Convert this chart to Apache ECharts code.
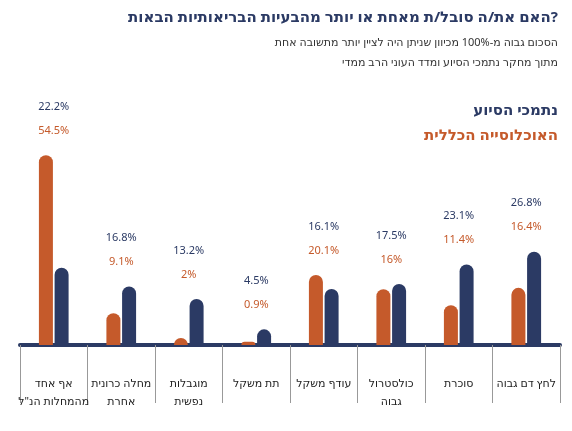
<html>
<head><meta charset="utf-8"></head>
<body style="margin:0">
<div id="container" style="width:572px;height:431px;"></div>
<script src="https://cdn.jsdelivr.net/npm/echarts@6/dist/echarts.min.js"></script>
<script>
var categories = ['לחץ דם גבוה', 'סוכרת', 'כולסטרול\nגבוה', 'עודף משקל', 'תת משקל', 'מוגבלות\nנפשית', 'מחלה כרונית\nאחרת', 'אף אחד\nמהמחלות הנ"ל'];
var general = [16.4, 11.4, 16, 20.1, 0.9, 2, 9.1, 54.5];
var supported = [26.8, 23.1, 17.5, 16.1, 4.5, 13.2, 16.8, 22.2];
var orange = '#c55a2b', navy = '#2b3a64';
var font = 'Noto Sans, DejaVu Sans, sans-serif';

var tops = categories.map(function (c, i) {
  return { value: Math.max(general[i], supported[i]), g: general[i], s: supported[i] };
});

var chart = echarts.init(document.getElementById('container'));
chart.setOption({
  animation: false,
  textStyle: { fontFamily: font },
  graphic: [
    { type: 'text', right: 14, top: 10, style: { text: 'האם את/ה סובל/ת מאחת או יותר מהבעיות הבריאותיות הבאות?', fill: navy, font: 'bold 15px ' + font } },
    { type: 'text', right: 14, top: 37, style: { text: 'הסכום גבוה מ-100% מכיוון שניתן היה לציין יותר מתשובה אחת', fill: '#333', font: '11px ' + font } },
    { type: 'text', right: 14, top: 57, style: { text: 'מתוך מחקר נתמכי הסיוע ומדד העוני הרב ממדי', fill: '#333', font: '11px ' + font } },
    { type: 'text', right: 14, top: 103, style: { text: 'נתמכי הסיוע', fill: navy, font: 'bold 15px ' + font } },
    { type: 'text', right: 14, top: 128, style: { text: 'האוכלוסייה הכללית', fill: orange, font: 'bold 15px ' + font } }
  ],
  grid: { left: 20, right: 12, top: 136, bottom: 86 },
  xAxis: {
    type: 'category', data: categories, inverse: true,
    axisLine: { lineStyle: { color: navy, width: 4 } },
    axisTick: { show: true, length: 58, lineStyle: { color: '#999', width: 1 } },
    axisLabel: { color: '#222', fontSize: 11, margin: 30, lineHeight: 18, interval: 0 }
  },
  yAxis: { type: 'value', min: 0, max: 60, show: false, splitLine: { show: false } },
  series: [
    { name: 'general', type: 'bar', data: general, barWidth: 14, barGap: '12%',
      itemStyle: { color: orange, borderRadius: [7, 7, 0, 0] } },
    { name: 'supported', type: 'bar', data: supported, barWidth: 14,
      itemStyle: { color: navy, borderRadius: [7, 7, 0, 0] } },
    { type: 'scatter', data: tops, symbolSize: 1, silent: true,
      itemStyle: { color: 'rgba(0,0,0,0)', opacity: 1 },
      label: { show: true, position: 'top', distance: 12, opacity: 1,
        formatter: function (p) { return '{s|' + p.data.s + '%}\n{g|' + p.data.g + '%}'; },
        rich: { s: { color: navy, fontSize: 11, lineHeight: 24 }, g: { color: orange, fontSize: 11, lineHeight: 24 } } } }
  ]
});
</script>
</body>
</html>
